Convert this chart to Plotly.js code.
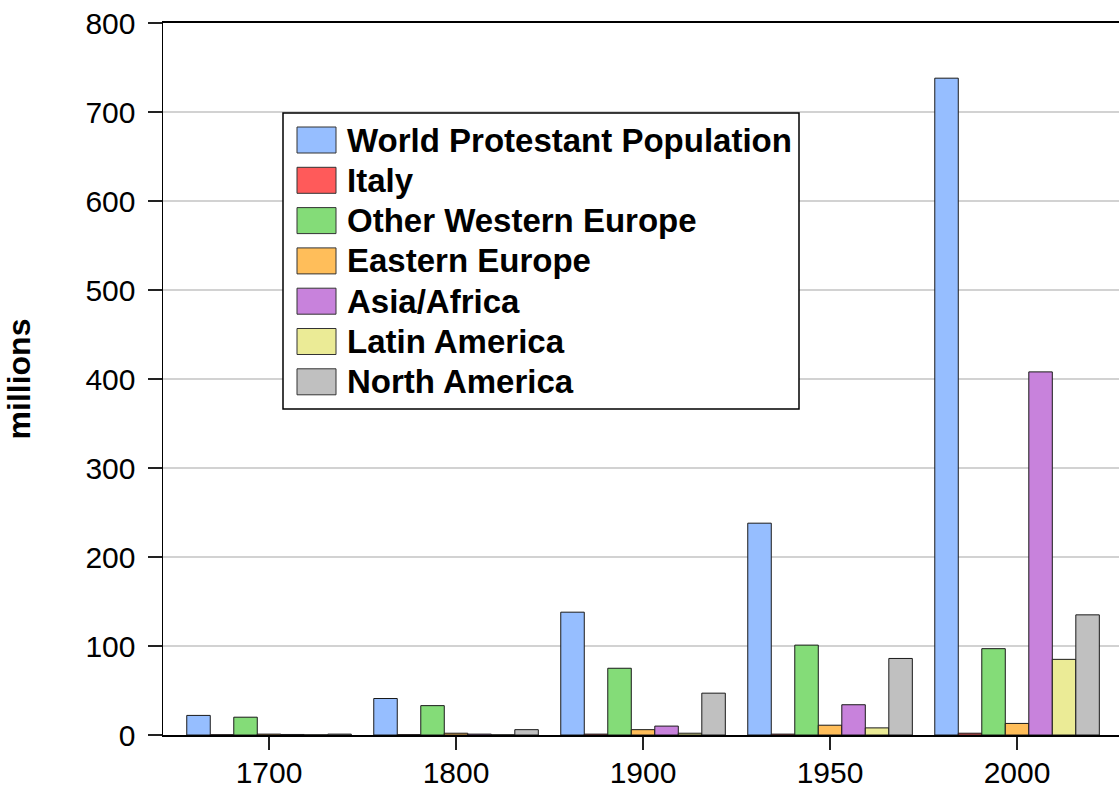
<!DOCTYPE html>
<html>
<head>
<meta charset="utf-8">
<script src="https://cdn.plot.ly/plotly-3.0.1.min.js"></script>
<style>
html, body { margin: 0; padding: 0; overflow: hidden; background: #fff; width: 1119px; height: 789px; }
#chart { width: 1130px; height: 789px; }
</style>
</head>
<body>
<div id="chart"></div>
<script>
// ---- Data (millions) ----
const years = ['1700', '1800', '1900', '1950', '2000'];
const seriesNames = ['World Protestant Population', 'Italy', 'Other Western Europe', 'Eastern Europe', 'Asia/Africa', 'Latin America', 'North America'];
const worldProtestant = [22, 41, 138, 238, 738];
const italy = [0.3, 0.4, 1, 1, 2];
const otherWesternEurope = [20, 33, 75, 101, 97];
const easternEurope = [1, 2, 6, 11, 13];
const asiaAfrica = [0.6, 1, 10, 34, 408];
const latinAmerica = [0.2, 0.2, 2, 8, 85];
const northAmerica = [1, 6, 47, 86, 135];
const yTickVals = [0, 100, 200, 300, 400, 500, 600, 700, 800];

const seriesValues = [worldProtestant, italy, otherWesternEurope, easternEurope, asiaAfrica, latinAmerica, northAmerica];
const colors = ['#96BEFF', '#FF5A5A', '#84DC78', '#FFBE5A', '#C882DC', '#EBEB96', '#C0C0C0'];

// ---- Layout geometry ----
const W = 1130, H = 789;
const mL = 163, mR = 0, mT = 23, mB = 54;
const plotW = W - mL - mR, plotH = H - mT - mB;
const px2x = p => (p - mL) / plotW;
const px2y = p => (H - mB - p) / plotH;

const traces = seriesNames.map((name, i) => ({
  type: 'bar',
  name: name,
  x: years,
  y: seriesValues[i],
  marker: { color: colors[i], line: { color: '#1a1a1a', width: 1 } },
  hoverinfo: 'x+y+name'
}));

// Custom legend (large swatches like the original)
const shapes = [];
const annotations = [];
const legX0 = 283, legX1 = 799, legY0 = 113, legY1 = 409;
shapes.push({ type: 'rect', xref: 'paper', yref: 'paper', x0: px2x(legX0), x1: px2x(legX1), y0: px2y(legY1), y1: px2y(legY0),
  line: { color: '#000', width: 1.5 }, fillcolor: '#fff', layer: 'above' });
seriesNames.forEach((name, i) => {
  const cy = 140 + 40.3 * i;
  shapes.push({ type: 'rect', xref: 'paper', yref: 'paper', x0: px2x(297), x1: px2x(336), y0: px2y(cy + 13), y1: px2y(cy - 13),
    line: { color: '#333', width: 1 }, fillcolor: colors[i], layer: 'above' });
  annotations.push({ xref: 'paper', yref: 'paper', x: px2x(345), y: px2y(cy), xanchor: 'left', yanchor: 'middle',
    text: '<b>' + name + '</b>', showarrow: false, font: { family: 'Liberation Sans, Arial, sans-serif', size: 33, color: '#000' } });
});

const layout = {
  width: W, height: H,
  margin: { l: mL, r: mR, t: mT, b: mB },
  paper_bgcolor: '#fff', plot_bgcolor: '#fff',
  font: { family: 'Liberation Sans, Arial, sans-serif', size: 30, color: '#000' },
  barmode: 'group', bargap: 0.12, bargroupgap: 0,
  showlegend: false,
  xaxis: {
    type: 'category', range: [-0.567, 4.604],
    showline: true, linecolor: '#000', linewidth: 2, mirror: true,
    ticks: 'outside', ticklen: 13, tickwidth: 1.5, tickcolor: '#222',
    tickfont: { size: 30 }, ticklabelstandoff: -3, showgrid: false, zeroline: false
  },
  yaxis: {
    range: [0, 800], tickvals: yTickVals,
    showline: true, linecolor: '#000', linewidth: 1.5, mirror: true,
    ticks: 'outside', ticklen: 14, tickwidth: 1.5, tickcolor: '#222',
    tickfont: { size: 30 }, ticklabelstandoff: 6,
    showgrid: true, gridcolor: '#d2d2d2', gridwidth: 1.5, zeroline: false,
    title: { text: '<b>millions</b>', font: { size: 32 }, standoff: 45 }
  },
  shapes: shapes,
  annotations: annotations
};

Plotly.newPlot('chart', traces, layout, { displayModeBar: false, staticPlot: true });
</script>
</body>
</html>
